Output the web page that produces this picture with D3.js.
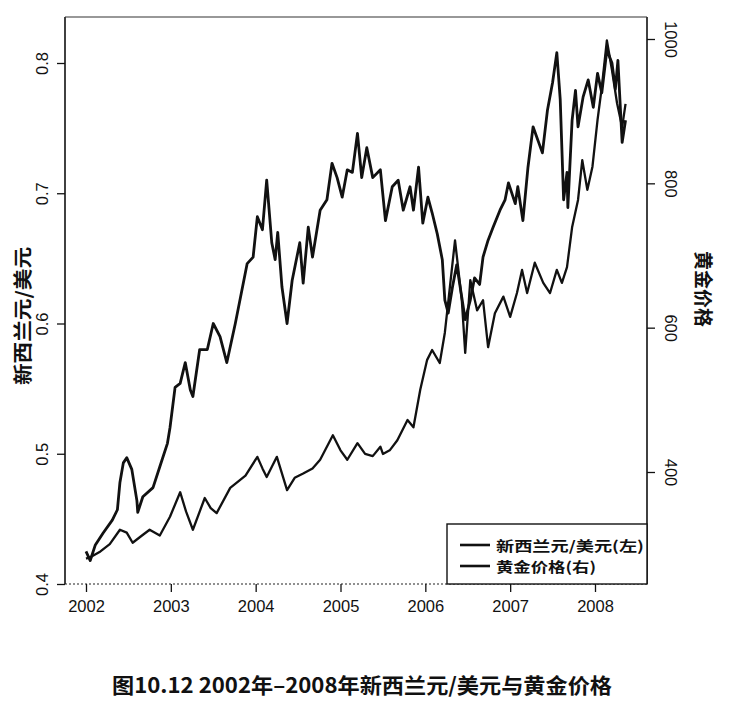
<!DOCTYPE html>
<html>
<head>
<meta charset="utf-8">
<script src="https://cdn.jsdelivr.net/npm/d3@7"></script>
<style>
  html, body { margin: 0; padding: 0; background: #fff; }
  svg { display: block; }
</style>
</head>
<body>
<svg id="chart" width="729" height="706"></svg>
<script>
// ---- Data ----
const nzdYears = [2002.00,2002.05,2002.11,2002.20,2002.31,2002.37,2002.40,2002.44,2002.48,2002.54,2002.60,2002.61,2002.67,2002.79,2002.87,2002.96,2002.99,2003.05,2003.11,2003.17,2003.23,2003.26,2003.34,2003.43,2003.50,2003.58,2003.66,2003.76,2003.90,2003.97,2004.02,2004.08,2004.13,2004.19,2004.23,2004.26,2004.31,2004.37,2004.43,2004.52,2004.56,2004.62,2004.67,2004.76,2004.84,2004.90,2004.96,2005.02,2005.08,2005.14,2005.20,2005.25,2005.31,2005.38,2005.47,2005.53,2005.61,2005.68,2005.74,2005.82,2005.86,2005.92,2005.97,2006.03,2006.08,2006.14,2006.20,2006.23,2006.27,2006.32,2006.37,2006.43,2006.47,2006.53,2006.58,2006.64,2006.68,2006.74,2006.80,2006.88,2006.94,2006.98,2007.06,2007.09,2007.15,2007.21,2007.27,2007.38,2007.44,2007.50,2007.55,2007.59,2007.63,2007.67,2007.68,2007.73,2007.77,2007.80,2007.86,2007.92,2007.98,2008.03,2008.08,2008.14,2008.20,2008.24,2008.27,2008.32,2008.36];
const nzdValues = [0.425,0.418,0.430,0.439,0.449,0.457,0.478,0.493,0.497,0.488,0.464,0.455,0.467,0.474,0.490,0.508,0.520,0.551,0.554,0.570,0.549,0.544,0.580,0.580,0.600,0.590,0.570,0.600,0.646,0.651,0.682,0.672,0.710,0.662,0.649,0.670,0.628,0.600,0.633,0.662,0.631,0.674,0.651,0.687,0.695,0.723,0.712,0.697,0.718,0.716,0.746,0.712,0.735,0.712,0.718,0.679,0.705,0.710,0.687,0.705,0.687,0.720,0.677,0.697,0.685,0.669,0.649,0.618,0.608,0.628,0.645,0.620,0.603,0.618,0.635,0.630,0.651,0.664,0.674,0.687,0.695,0.708,0.692,0.705,0.679,0.720,0.751,0.731,0.764,0.785,0.808,0.772,0.695,0.716,0.689,0.756,0.779,0.751,0.774,0.787,0.766,0.792,0.777,0.810,0.800,0.780,0.802,0.739,0.756];

const goldYears = [2002.00,2002.05,2002.17,2002.28,2002.40,2002.48,2002.55,2002.66,2002.75,2002.87,2002.99,2003.11,2003.18,2003.26,2003.40,2003.47,2003.54,2003.70,2003.88,2004.02,2004.08,2004.13,2004.25,2004.37,2004.46,2004.56,2004.67,2004.76,2004.91,2005.00,2005.08,2005.20,2005.29,2005.38,2005.47,2005.50,2005.58,2005.67,2005.79,2005.86,2005.94,2006.02,2006.08,2006.17,2006.23,2006.29,2006.35,2006.43,2006.47,2006.53,2006.61,2006.68,2006.74,2006.82,2006.92,2007.00,2007.08,2007.14,2007.20,2007.29,2007.39,2007.47,2007.55,2007.61,2007.67,2007.73,2007.80,2007.85,2007.91,2007.97,2008.03,2008.08,2008.14,2008.20,2008.26,2008.32,2008.36];
const goldValues = [280,282,290,300,320,316,302,312,320,312,338,372,345,320,364,350,343,378,395,421,405,393,421,375,392,398,405,417,451,430,417,440,425,422,435,425,430,444,472,462,514,555,569,551,593,657,721,638,565,666,624,638,573,620,643,615,648,680,648,690,662,648,680,662,684,739,777,832,791,823,888,933,998,957,911,878,910];

const yearTicks = [2002, 2003, 2004, 2005, 2006, 2007, 2008];
const leftTicks = [0.4, 0.5, 0.6, 0.7, 0.8];
const rightTicks = [400, 600, 800, 1000];
const leftTickLabels = ["0.4", "0.5", "0.6", "0.7", "0.8"];
const rightTickLabels = ["400", "600", "800", "1000"];
const legendLabels = ["新西兰元/美元(左)", "黄金价格(右)"];
const leftTitle = "新西兰元/美元";
const rightTitle = "黄金价格";
const caption = "图10.12 2002年–2008年新西兰元/美元与黄金价格";

// ---- Layout ----
const svg = d3.select("#chart");
const box = { left: 65, right: 647, top: 17, bottom: 584 };
const x = d3.scaleLinear().domain([2002, 2008]).range([86, 595]);
const yL = d3.scaleLinear().domain([0.4, 0.8]).range([584, 63]);
const yR = d3.scaleLinear().domain([400, 1000]).range([472, 39]);

const numFont = "'Liberation Sans', Arial, Helvetica, sans-serif";
const cjkFont = "'Noto Sans CJK SC', 'Noto Sans', sans-serif";

// Box: left, top, right solid; bottom dotted
svg.append("line").attr("x1", box.left).attr("x2", box.left).attr("y1", box.top).attr("y2", box.bottom)
  .attr("stroke", "#111").attr("stroke-width", 1.6);
svg.append("line").attr("x1", box.right).attr("x2", box.right).attr("y1", box.top).attr("y2", box.bottom)
  .attr("stroke", "#111").attr("stroke-width", 1.6);
svg.append("line").attr("x1", box.left).attr("x2", box.right).attr("y1", box.top).attr("y2", box.top)
  .attr("stroke", "#333").attr("stroke-width", 1.2);
svg.append("line").attr("x1", box.left).attr("x2", box.right).attr("y1", box.bottom).attr("y2", box.bottom)
  .attr("stroke", "#222").attr("stroke-width", 1.2).attr("stroke-dasharray", "2,2");

// Bottom axis
const xAxis = d3.axisBottom(x).tickValues(yearTicks).tickFormat(d3.format("d")).tickSize(8).tickPadding(8);
const gx = svg.append("g").attr("transform", `translate(0,${box.bottom})`).call(xAxis);
gx.select(".domain").remove();
gx.selectAll(".tick line").attr("stroke", "#111").attr("stroke-width", 1.3);
gx.selectAll(".tick text").attr("font-family", numFont).attr("font-size", 16.5).attr("fill", "#111");

// Left axis
const yAxisL = d3.axisLeft(yL).tickValues(leftTicks).tickFormat((d, i) => leftTickLabels[i]).tickSize(8);
const gl = svg.append("g").attr("transform", `translate(${box.left},0)`).call(yAxisL);
gl.select(".domain").remove();
gl.selectAll(".tick line").attr("stroke", "#111").attr("stroke-width", 1.3);
gl.selectAll(".tick text")
  .attr("font-family", numFont).attr("font-size", 16.5).attr("fill", "#111")
  .attr("x", 0).attr("dy", null)
  .attr("text-anchor", "middle")
  .attr("transform", "translate(-23,0) rotate(-90)")
  .attr("dominant-baseline", "central");

// Right axis
const yAxisR = d3.axisRight(yR).tickValues(rightTicks).tickFormat((d, i) => rightTickLabels[i]).tickSize(8);
const gr = svg.append("g").attr("transform", `translate(${box.right},0)`).call(yAxisR);
gr.select(".domain").remove();
gr.selectAll(".tick line").attr("stroke", "#111").attr("stroke-width", 1.3);
gr.selectAll(".tick text")
  .attr("font-family", numFont).attr("font-size", 16.5).attr("fill", "#111")
  .attr("x", 0).attr("dy", null)
  .attr("text-anchor", "middle")
  .attr("transform", "translate(24,0) rotate(90)")
  .attr("dominant-baseline", "central");

// Lines
const nzd = nzdYears.map((t, i) => ({ t, v: nzdValues[i] }));
const gold = goldYears.map((t, i) => ({ t, v: goldValues[i] }));
const lineL = d3.line().x(d => x(d.t)).y(d => yL(d.v));
const lineR = d3.line().x(d => x(d.t)).y(d => yR(d.v));
svg.append("path").datum(gold).attr("d", lineR)
  .attr("fill", "none").attr("stroke", "#111").attr("stroke-width", 2.3).attr("stroke-linejoin", "round");
svg.append("path").datum(nzd).attr("d", lineL)
  .attr("fill", "none").attr("stroke", "#111").attr("stroke-width", 2.8).attr("stroke-linejoin", "round");

// Legend
const lg = svg.append("g");
lg.append("rect").attr("x", 447).attr("y", 524).attr("width", 200).attr("height", 60)
  .attr("fill", "#fff").attr("stroke", "#111").attr("stroke-width", 1.4);
const legendWidths = [148, 100];
legendLabels.forEach((lab, i) => {
  const yy = 545 + i * 21;
  lg.append("line").attr("x1", 460).attr("x2", 490).attr("y1", yy).attr("y2", yy)
    .attr("stroke", "#111").attr("stroke-width", 2.6);
  lg.append("text").attr("x", 496).attr("y", yy).attr("dominant-baseline", "central")
    .attr("font-family", cjkFont).attr("font-weight", "bold").attr("font-size", 14)
    .attr("textLength", legendWidths[i]).attr("lengthAdjust", "spacingAndGlyphs")
    .attr("fill", "#111").text(lab);
});

// Axis titles
svg.append("text").attr("transform", "translate(21,316) rotate(-90)")
  .attr("text-anchor", "middle").attr("dominant-baseline", "central")
  .attr("font-family", cjkFont).attr("font-weight", "bold").attr("font-size", 19)
  .attr("textLength", 138).attr("lengthAdjust", "spacingAndGlyphs")
  .attr("fill", "#111").text(leftTitle);
svg.append("text").attr("transform", "translate(704,289) rotate(90)")
  .attr("text-anchor", "middle").attr("dominant-baseline", "central")
  .attr("font-family", cjkFont).attr("font-weight", "bold").attr("font-size", 19)
  .attr("fill", "#111").text(rightTitle);

// Caption
svg.append("text").attr("x", 362).attr("y", 684)
  .attr("text-anchor", "middle").attr("dominant-baseline", "central")
  .attr("font-family", cjkFont).attr("font-weight", "bold").attr("font-size", 21)
  .attr("textLength", 500).attr("lengthAdjust", "spacingAndGlyphs")
  .attr("fill", "#111").text(caption);
</script>
</body>
</html>
